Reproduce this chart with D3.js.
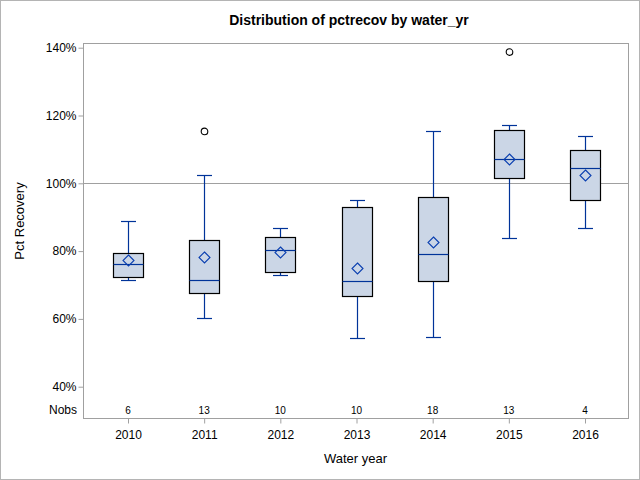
<!DOCTYPE html>
<html>
<head>
<meta charset="utf-8">
<script src="https://cdn.jsdelivr.net/npm/d3@7"></script>
<style>
  body { margin: 0; background: #fff; }
  text { font-family: "Liberation Sans", Arial, sans-serif; }
</style>
</head>
<body>
<div id="vis"></div>
<script>
// data (percent)
let years = ['2010', '2011', '2012', '2013', '2014', '2015', '2016'];
let nobs = [6, 13, 10, 10, 18, 13, 4];
let whiskerLow = [71.4, 60.2, 72.9, 54.3, 54.6, 83.8, 86.7];
let q1 = [72.4, 67.6, 73.7, 66.7, 71.1, 101.5, 95.0];
let median = [76.1, 71.4, 80.2, 71.1, 79.1, 107.1, 104.4];
let q3 = [79.4, 83.2, 84.1, 92.9, 95.9, 115.6, 109.7];
let whiskerHigh = [88.9, 102.4, 86.7, 95.0, 115.3, 117.1, 113.9];
let means = [77.4, 78.3, 79.6, 74.9, 82.6, 107.1, 102.4];
let outliers = [[], [115.3], [], [], [], [138.7], []];
let yTicks = [40, 60, 80, 100, 120, 140];

let W = 640, H = 480;
let margin = { top: 43, left: 83, right: 12, bottom: 62 };
let x0 = margin.left, x1 = W - margin.right;
let y0 = margin.top, y1 = H - margin.bottom;

let svg = d3.select('#vis').append('svg')
  .attr('width', W)
  .attr('height', H);

// outer border
svg.append('rect')
  .attr('x', 0.5).attr('y', 0.5)
  .attr('width', W - 1).attr('height', H - 1)
  .attr('fill', '#fff').attr('stroke', '#b4b4b4');

let x = d3.scalePoint()
  .domain(years)
  .range([x0 + 45, x1 - 43]);

let y = d3.scaleLinear()
  .domain([40, 100])
  .range([386.7, 183.3]);

// snap to pixel centres for crisp 1px lines
let px = v => Math.round(v) + 0.5;

// plot frame
svg.append('rect')
  .attr('x', x0 + 0.5).attr('y', y0 + 0.5)
  .attr('width', x1 - x0).attr('height', y1 - y0)
  .attr('fill', 'none').attr('stroke', '#a0a0a0');

// y axis
let yAxis = svg.append('g')
  .attr('transform', 'translate(' + (x0 + 0.5) + ',0)')
  .call(d3.axisLeft(y).tickValues(yTicks).tickSize(5).tickFormat(d => d + '%'));
yAxis.select('.domain').remove();
yAxis.selectAll('line').attr('stroke', '#a0a0a0');
yAxis.selectAll('text').attr('font-size', 12).attr('fill', '#000').attr('x', -7);

// x axis
let xAxis = svg.append('g')
  .attr('transform', 'translate(0,' + (y1 + 0.5) + ')')
  .call(d3.axisBottom(x).tickSize(5));
xAxis.select('.domain').remove();
xAxis.selectAll('line').attr('stroke', '#a0a0a0');
xAxis.selectAll('text').attr('font-size', 12).attr('fill', '#000').attr('dy', '1.05em');

// reference line at 100%
svg.append('line')
  .attr('x1', x0).attr('x2', x1)
  .attr('y1', px(y(100))).attr('y2', px(y(100)))
  .attr('stroke', '#a0a0a0');

let blue = '#003399';
let boxW = 30, capW = 15;

let boxes = svg.append('g').selectAll('g')
  .data(years)
  .enter().append('g')
  .attr('transform', d => 'translate(' + px(x(d)) + ',0)');

// whiskers
boxes.append('line')
  .attr('x1', 0).attr('x2', 0)
  .attr('y1', (d, i) => px(y(whiskerLow[i]))).attr('y2', (d, i) => px(y(whiskerHigh[i])))
  .attr('stroke', blue).attr('stroke-width', 1.2);
boxes.append('line')
  .attr('x1', -capW / 2).attr('x2', capW / 2)
  .attr('y1', (d, i) => px(y(whiskerLow[i]))).attr('y2', (d, i) => px(y(whiskerLow[i])))
  .attr('stroke', blue).attr('stroke-width', 1.2);
boxes.append('line')
  .attr('x1', -capW / 2).attr('x2', capW / 2)
  .attr('y1', (d, i) => px(y(whiskerHigh[i]))).attr('y2', (d, i) => px(y(whiskerHigh[i])))
  .attr('stroke', blue).attr('stroke-width', 1.2);

// box
boxes.append('rect')
  .attr('x', -boxW / 2)
  .attr('y', (d, i) => px(y(q3[i])))
  .attr('width', boxW)
  .attr('height', (d, i) => px(y(q1[i])) - px(y(q3[i])))
  .attr('fill', '#cbd6e6')
  .attr('stroke', '#000').attr('stroke-width', 1.2);

// median
boxes.append('line')
  .attr('x1', -boxW / 2).attr('x2', boxW / 2)
  .attr('y1', (d, i) => px(y(median[i]))).attr('y2', (d, i) => px(y(median[i])))
  .attr('stroke', blue).attr('stroke-width', 1.2);

// mean diamond
boxes.append('path')
  .attr('d', (d, i) => {
    let cy = px(y(means[i])), r = 5.5;
    return 'M0,' + (cy - r) + 'L' + r + ',' + cy + 'L0,' + (cy + r) + 'L' + (-r) + ',' + cy + 'Z';
  })
  .attr('fill', 'none').attr('stroke', '#0a3fb0').attr('stroke-width', 1.1);

// outliers
boxes.each(function (d, i) {
  d3.select(this).selectAll('circle')
    .data(outliers[i])
    .enter().append('circle')
    .attr('cx', 0).attr('cy', v => y(v)).attr('r', 3.3)
    .attr('fill', 'none').attr('stroke', '#000').attr('stroke-width', 1.1);
});

// Nobs row
svg.append('text')
  .attr('x', x0 - 6).attr('y', 414)
  .attr('text-anchor', 'end').attr('font-size', 12)
  .text('Nobs');
svg.append('g').selectAll('text')
  .data(years)
  .enter().append('text')
  .attr('x', d => x(d)).attr('y', 414)
  .attr('text-anchor', 'middle').attr('font-size', 10)
  .text((d, i) => nobs[i]);

// titles
svg.append('text')
  .attr('x', 349).attr('y', 25)
  .attr('text-anchor', 'middle').attr('font-size', 14).attr('font-weight', 'bold')
  .text('Distribution of pctrecov by water_yr');
svg.append('text')
  .attr('x', (x0 + x1) / 2).attr('y', 463)
  .attr('text-anchor', 'middle').attr('font-size', 13)
  .text('Water year');
svg.append('text')
  .attr('transform', 'translate(24,221) rotate(-90)')
  .attr('text-anchor', 'middle').attr('font-size', 13)
  .text('Pct Recovery');
</script>
</body>
</html>
